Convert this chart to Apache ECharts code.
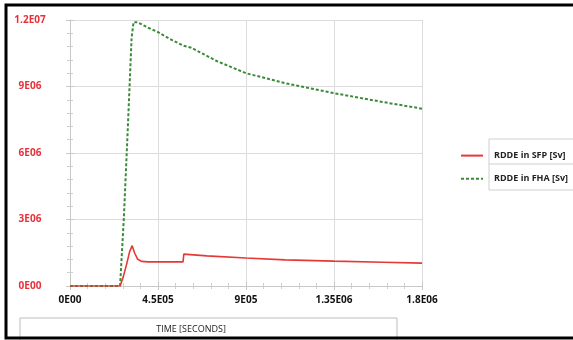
<!DOCTYPE html>
<html>
<head>
<meta charset="utf-8">
<script src="https://cdn.jsdelivr.net/npm/echarts@6/dist/echarts.min.js"></script>
<style>
  html, body { margin: 0; padding: 0; background: #fff; }
  #chart { width: 573px; height: 340px; }
</style>
</head>
<body>
<div id="chart"></div>
<script>
  // tick labels as printed on the original plot
  var xTickLabels = { 0: '0E00', 450000: '4.5E05', 900000: '9E05', 1350000: '1.35E06', 1800000: '1.8E06' };
  var yTickLabels = { 0: '0E00', 3000000: '3E06', 6000000: '6E06', 9000000: '9E06', 12000000: '1.2E07' };
  var seriesNames = ['RDDE in SFP [Sv]', 'RDDE in FHA [Sv]'];

  // [time s, dose Sv]
  var sfpData = [
    [0, 0], [256000, 0], [272000, 400000], [290000, 1000000], [305000, 1550000],
    [318000, 1820000], [330000, 1500000], [345000, 1220000], [365000, 1110000],
    [400000, 1090000], [500000, 1090000], [578000, 1090000], [582000, 1440000],
    [700000, 1360000], [900000, 1260000], [1100000, 1180000], [1350000, 1120000],
    [1600000, 1070000], [1800000, 1030000]
  ];
  var fhaData = [
    [0, 0], [256000, 0], [275000, 3000000], [295000, 7000000], [315000, 11200000],
    [325000, 11900000], [345000, 11900000], [400000, 11650000], [450000, 11450000],
    [520000, 11100000], [578000, 10850000], [620000, 10750000], [750000, 10150000],
    [900000, 9600000], [1100000, 9150000], [1350000, 8700000], [1600000, 8300000],
    [1800000, 8000000]
  ];

  var chart = echarts.init(document.getElementById('chart'));
  var tickStyle = { show: true, inside: true, length: 4, lineStyle: { color: '#c8c8c8' } };
  var minorStyle = { show: true, splitNumber: 5, length: 3, lineStyle: { color: '#cfcfcf' } };

  chart.setOption({
    animation: false,
    grid: { left: 70, top: 20, width: 352, height: 266 },
    xAxis: [{
      type: 'value', min: 0, max: 1800000, interval: 450000,
      axisLine: { show: true, lineStyle: { color: '#c8c8c8' } },
      axisTick: tickStyle, minorTick: minorStyle,
      splitLine: { show: true, lineStyle: { color: '#dcdcdc' } },
      axisLabel: {
        margin: 9, color: '#111', fontWeight: 'bold', fontSize: 10, fontFamily: 'Open Sans',
        formatter: function (v) { return xTickLabels[v]; }
      }
    }, {
      type: 'value', position: 'top', min: 0, max: 1800000, interval: 450000,
      axisLine: { show: false }, axisTick: tickStyle, minorTick: minorStyle,
      splitLine: { show: false }, axisLabel: { show: false }
    }],
    yAxis: [{
      type: 'value', min: 0, max: 12000000, interval: 3000000,
      axisLine: { show: true, lineStyle: { color: '#c8c8c8' } },
      axisTick: tickStyle, minorTick: minorStyle,
      splitLine: { show: true, lineStyle: { color: '#dcdcdc' } },
      axisLabel: {
        margin: 40, align: 'center', color: '#e8303a', fontWeight: 'bold', fontSize: 10, fontFamily: 'Open Sans',
        formatter: function (v) { return yTickLabels[v]; }
      }
    }, {
      type: 'value', position: 'right', min: 0, max: 12000000, interval: 3000000,
      axisLine: { show: false }, axisTick: tickStyle, minorTick: minorStyle,
      splitLine: { show: false }, axisLabel: { show: false }
    }],
    legend: {
      orient: 'vertical', left: 455, top: 145,
      itemWidth: 22, itemHeight: 14, itemGap: 12,
      data: seriesNames,
      itemStyle: { opacity: 0 },
      textStyle: { fontSize: 9, fontWeight: 'bold', color: '#222', fontFamily: 'Open Sans', padding: [0, 0, 0, 6] }
    },
    series: [{
      name: seriesNames[0], type: 'line', data: sfpData, symbol: 'none',
      lineStyle: { color: '#e53935', width: 1.6 }, itemStyle: { color: '#e53935' }, z: 3
    }, {
      name: seriesNames[1], type: 'line', data: fhaData, symbol: 'none',
      lineStyle: { color: '#3a8a3a', width: 2, type: [3, 2] }, itemStyle: { color: '#3a8a3a' }, z: 2
    }],
    graphic: [
      // legend table lines
      { type: 'line', shape: { x1: 489, y1: 139, x2: 573, y2: 139 }, style: { stroke: '#cfcfcf', lineWidth: 1 } },
      { type: 'line', shape: { x1: 489, y1: 164, x2: 573, y2: 164 }, style: { stroke: '#cfcfcf', lineWidth: 1 } },
      { type: 'line', shape: { x1: 489, y1: 190, x2: 573, y2: 190 }, style: { stroke: '#cfcfcf', lineWidth: 1 } },
      { type: 'line', shape: { x1: 489, y1: 139, x2: 489, y2: 190 }, style: { stroke: '#cfcfcf', lineWidth: 1 } },
      // axis title box
      { type: 'rect', shape: { x: 20, y: 318, width: 377, height: 30 }, style: { fill: 'none', stroke: '#bdbdbd', lineWidth: 1 } },
      { type: 'text', x: 191, y: 329, style: { text: 'TIME [SECONDS]', fontSize: 9, fontFamily: 'Open Sans', fill: '#222', align: 'center', verticalAlign: 'middle' } },
      // outer frame
      { type: 'polyline', shape: { points: [[573, 5], [6, 5], [6, 338], [573, 338]] }, style: { fill: 'none', stroke: '#000', lineWidth: 3 }, z: 10 }
    ]
  });
</script>
</body>
</html>
